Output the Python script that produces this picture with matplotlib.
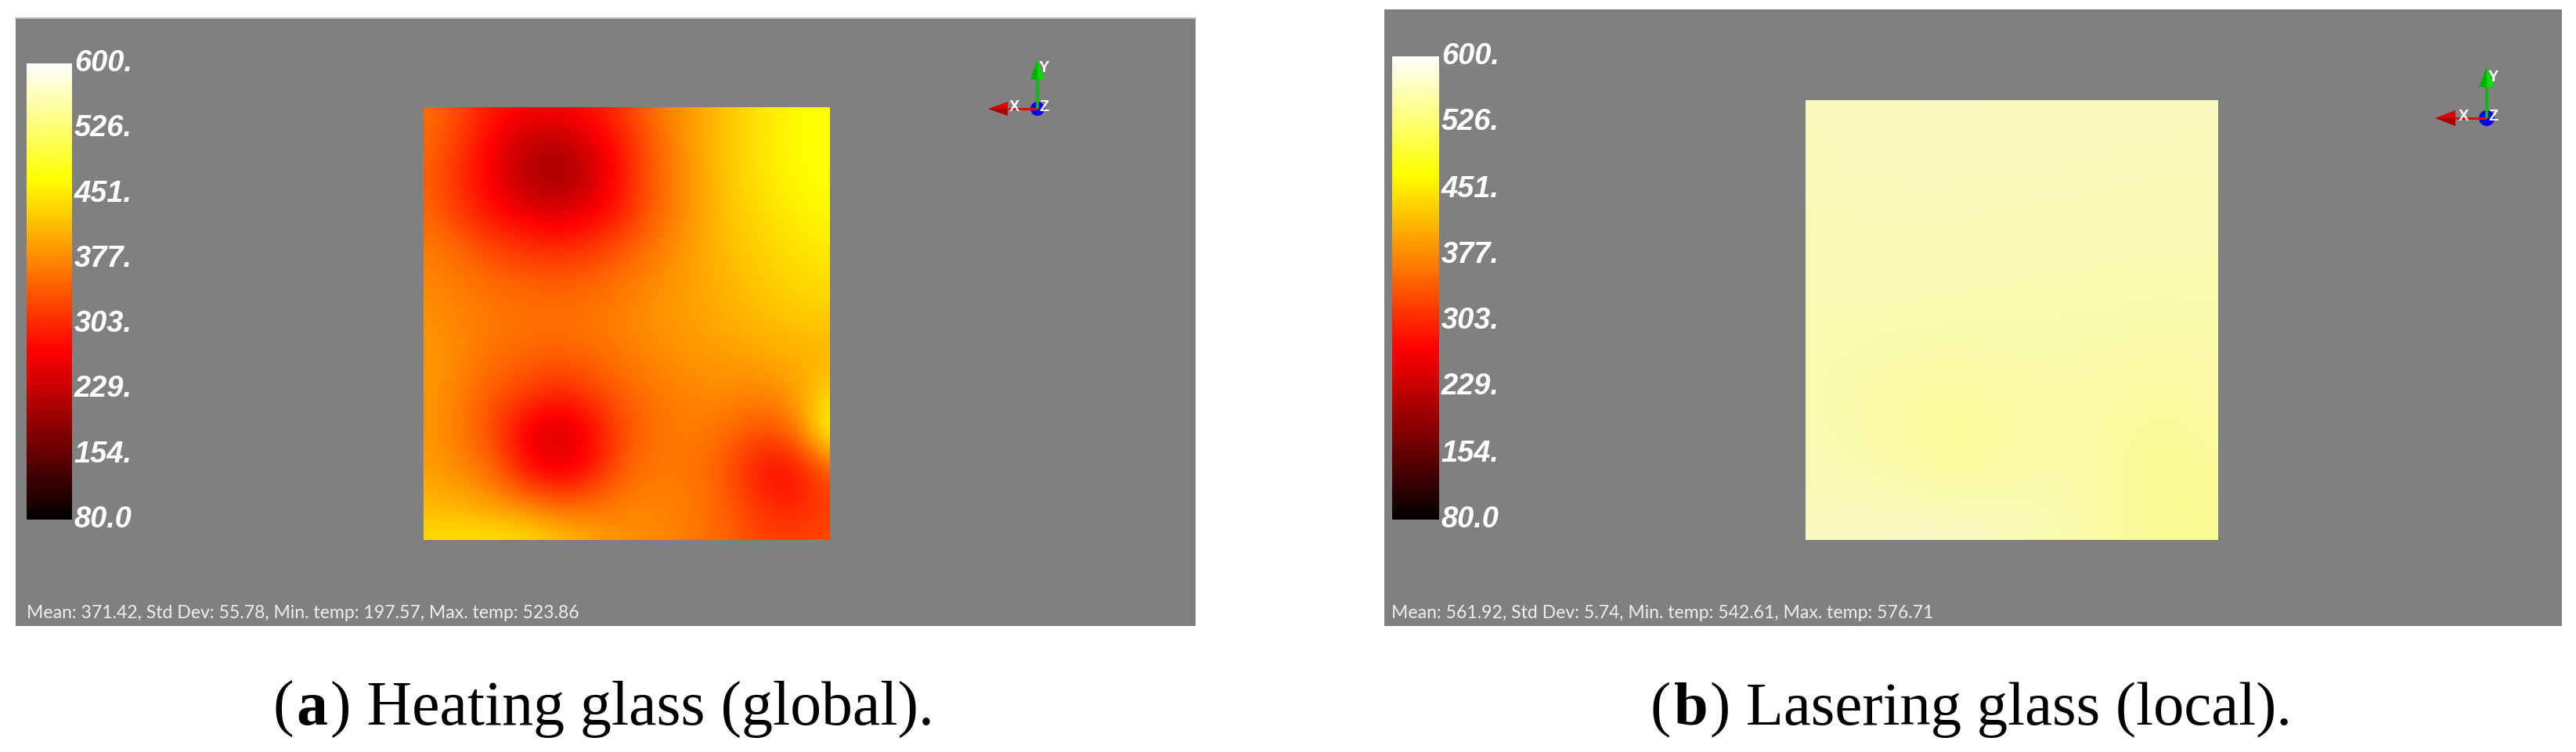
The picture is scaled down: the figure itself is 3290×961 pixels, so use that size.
#!/usr/bin/python
# -*- coding: utf-8 -*-
import numpy as np
from matplotlib import pyplot as plt
from matplotlib.colors import LinearSegmentedColormap
from matplotlib.cm import ScalarMappable
from matplotlib.colors import Normalize
from matplotlib.patches import Rectangle, Polygon, Circle

W, H = 3291, 961

# temperature, rows top to bottom, columns left to right
temp_heating = [
    [363, 330, 295, 275, 275, 290, 320, 368, 395, 425, 448, 464, 470],
    [355, 320, 270, 225, 215, 250, 300, 355, 395, 425, 448, 468, 472],
    [350, 310, 265, 215, 195, 235, 295, 355, 392, 425, 448, 462, 470],
    [355, 320, 285, 265, 250, 268, 305, 355, 392, 422, 440, 455, 463],
    [370, 355, 330, 315, 310, 320, 345, 372, 395, 418, 432, 445, 452],
    [378, 370, 358, 350, 348, 352, 368, 382, 398, 410, 425, 435, 440],
    [385, 375, 365, 362, 362, 365, 375, 385, 395, 405, 415, 420, 425],
    [390, 378, 358, 345, 340, 348, 365, 378, 385, 390, 398, 405, 410],
    [390, 372, 340, 320, 295, 320, 345, 365, 375, 378, 368, 392, 440],
    [390, 368, 330, 265, 232, 275, 335, 360, 368, 355, 330, 355, 485],
    [395, 378, 355, 280, 250, 285, 350, 365, 362, 335, 282, 280, 350],
    [415, 405, 392, 372, 345, 355, 372, 372, 365, 345, 305, 295, 320],
    [440, 450, 450, 448, 430, 400, 385, 378, 365, 345, 325, 320, 330],
]
temp_lasering = [
    [568, 570, 571, 571, 571, 571, 570, 569, 568],
    [566, 568, 569, 569, 568, 568, 567, 566, 566],
    [564, 566, 566, 566, 565, 565, 564, 564, 564],
    [562, 564, 564, 563, 562, 562, 561, 561, 561],
    [561, 561, 560, 560, 560, 559, 559, 558, 559],
    [560, 558, 555, 554, 556, 557, 556, 554, 556],
    [561, 556, 551, 547, 552, 556, 552, 546, 555],
    [565, 562, 557, 552, 556, 558, 551, 541, 545],
    [569, 572, 576, 575, 568, 560, 551, 545, 544],
]
bar_ticks = [80, 154, 229, 303, 377, 451, 526, 600]
bar_labels = ['80.0', '154.', '229.', '303.', '377.', '451.', '526.', '600.']
stats_a = 'Mean: 371.42, Std Dev: 55.78, Min. temp: 197.57, Max. temp: 523.86'
stats_b = 'Mean: 561.92, Std Dev: 5.74, Min. temp: 542.61, Max. temp: 576.71'
caption_a = ['a', ') Heating glass (global).']
caption_b = ['b', ') Lasering glass (local).']

GREY = '#808080'
cmap = LinearSegmentedColormap.from_list(
    'blackbody', [(0, 'black'), (0.37, 'red'), (0.745, 'yellow'), (1, 'white')], N=512)
norm = Normalize(80, 600)

fig = plt.figure(figsize=(W / 100, H / 100), dpi=100, facecolor='white')


def px_axes(x0, y0, x1, y1):
    # axes placed by pixel box, y measured from the top
    return fig.add_axes([x0 / W, 1 - y1 / H, (x1 - x0) / W, (y1 - y0) / H])


# whole figure in pixels, for the panels, triads and text
bg = fig.add_axes([0, 0, 1, 1])
bg.set_xlim(0, W)
bg.set_ylim(H, 0)
bg.axis('off')


def draw_plate(box, values, alpha=1.0):
    ax = px_axes(*box)
    n = len(values)
    m = len(values[0])
    ax.imshow(values, cmap=cmap, norm=norm, interpolation='bicubic', aspect='auto',
              extent=(-0.5, m - 0.5, n - 0.5, -0.5), alpha=alpha)
    ax.set_xlim(0, m - 1)
    ax.set_ylim(n - 1, 0)
    ax.axis('off')


def draw_bar(box, pad):
    cax = px_axes(*box)
    cb = fig.colorbar(ScalarMappable(norm=norm, cmap=cmap), cax=cax)
    cb.outline.set_visible(False)
    cb.set_ticks(bar_ticks, labels=bar_labels)
    cb.ax.minorticks_off()
    cb.ax.tick_params(length=0, pad=pad, labelcolor='white', labelsize=38 * 0.72)
    for lab in cb.ax.get_yticklabels():
        lab.set_family('Liberation Sans')
        lab.set_weight('bold')
        lab.set_style('italic')
        lab.set_verticalalignment('center')


def draw_triad(x, y, tip, base, hw):
    bg.add_patch(Circle((x, y), hw, fc='#0000ee', ec='none', zorder=3))
    bg.plot([x, x - base], [y, y], color='#ee0000', lw=2.2, zorder=4, solid_capstyle='butt')
    bg.plot([x, x], [y, y - base], color='#00c000', lw=2.6, zorder=4, solid_capstyle='butt')
    # cones, two shades each
    bg.add_patch(Polygon([(x - tip, y), (x - base, y - hw), (x - base, y)], fc='#d80000', ec='none', zorder=5))
    bg.add_patch(Polygon([(x - tip, y), (x - base, y + hw), (x - base, y)], fc='#a80000', ec='none', zorder=5))
    bg.add_patch(Polygon([(x, y - tip), (x - hw, y - base), (x, y - base)], fc='#00b000', ec='none', zorder=5))
    bg.add_patch(Polygon([(x, y - tip), (x + hw, y - base), (x, y - base)], fc='#00e000', ec='none', zorder=5))
    for s, dx, dy in [('X', -29, -2), ('Y', 8, -52), ('Z', 9, -3)]:
        bg.text(x + dx, y + dy, s, color='white', fontsize=20 * 0.72, weight='bold',
                family='Liberation Sans', ha='center', va='center', zorder=6)


def draw_caption(x, y, parts, px):
    r = fig.canvas.get_renderer()
    size = px * 0.72
    t = bg.text(x, y, '(', family='Liberation Serif', fontsize=size, va='baseline', color='black')
    x += t.get_window_extent(r).width + 3
    t = bg.text(x, y, parts[0], family='Liberation Serif', weight='bold', fontsize=size, va='baseline', color='black')
    x += t.get_window_extent(r).width + 3
    bg.text(x, y, parts[1], family='Liberation Serif', fontsize=size, va='baseline', color='black')


# panel (a)
bg.add_patch(Rectangle((20, 23), 1507, 777, fc=GREY, ec='none'))
bg.plot([20, 1527], [22.5, 22.5], color='#c8c8c8', lw=1.5)
draw_plate((541, 137, 1060, 690), temp_heating)
draw_bar((34, 81, 92, 664), 2)
draw_triad(1325, 139, 63, 38, 9)
bg.text(34, 783, stats_a, color='#eeeeee', family='Lato', fontsize=23 * 0.72, va='center')
draw_caption(349, 926, caption_a, 79.7)

# panel (b)
bg.add_patch(Rectangle((1768, 12), 1504, 788, fc=GREY, ec='none'))
draw_plate((2306, 128, 2833, 690), temp_lasering, alpha=0.97)
draw_bar((1778, 72, 1838, 664), 2)
draw_triad(3176, 151, 66, 40, 10)
bg.text(1777, 784, stats_b, color='#eeeeee', family='Lato', fontsize=23 * 0.72, va='center')
draw_caption(2108, 926, caption_b, 78.6)

fig.savefig('out.png', dpi=100, facecolor='white')
